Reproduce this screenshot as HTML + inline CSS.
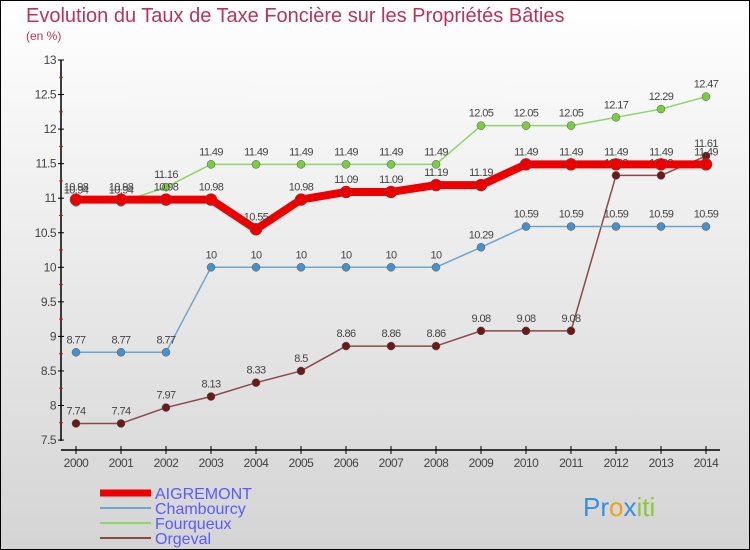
<!DOCTYPE html>
<html><head><meta charset="utf-8"><style>
body{margin:0}
svg{display:block;font-family:"Liberation Sans",sans-serif}
</style></head><body>
<svg id="c" width="750" height="550" viewBox="0 0 750 550">
<defs><linearGradient id="bg" x1="0" y1="0" x2="0" y2="1"><stop offset="0" stop-color="#ffffff"/><stop offset="1" stop-color="#d4d4d4"/></linearGradient></defs>
<rect x="0.5" y="0.5" width="749" height="549" fill="url(#bg)" stroke="#000"/>
<text x="26" y="22" font-size="20" fill="#c0305a">Evolution du Taux de Taxe Foncière sur les Propriétés Bâties</text>
<text x="26" y="40" font-size="12" fill="#c0305a">(en %)</text>
<g id="axes"></g><g id="series"></g>
<g>
<line x1="100" y1="493" x2="151" y2="493" stroke="#e00" stroke-width="7"/>
<text x="155" y="499" font-size="16" fill="#5a5aff">AIGREMONT</text>
<line x1="100" y1="508" x2="151" y2="508" stroke="#6fa5cc" stroke-width="2"/>
<text x="155" y="514" font-size="16" fill="#5a5aff">Chambourcy</text>
<line x1="100" y1="523" x2="151" y2="523" stroke="#8fd46a" stroke-width="2"/>
<text x="155" y="529" font-size="16" fill="#5a5aff">Fourqueux</text>
<line x1="100" y1="538" x2="151" y2="538" stroke="#8a4a4a" stroke-width="2"/>
<text x="155" y="544" font-size="16" fill="#5a5aff">Orgeval</text>
</g>
<g font-size="26">
<text x="583" y="516"><tspan fill="#3a8fd8">Pr</tspan><tspan fill="#f0a020">o</tspan><tspan fill="#3a8fd8">x</tspan><tspan fill="#8cc63f">iti</tspan></text>
</g>
</svg>
<script>
const years=[2000,2001,2002,2003,2004,2005,2006,2007,2008,2009,2010,2011,2012,2013,2014];
const yTicks=[7.5,8,8.5,9,9.5,10,10.5,11,11.5,12,12.5,13];
const aigremont=[10.98,10.98,10.98,10.98,10.55,10.98,11.09,11.09,11.19,11.19,11.49,11.49,11.49,11.49,11.49];
const chambourcy=[8.77,8.77,8.77,10,10,10,10,10,10,10.29,10.59,10.59,10.59,10.59,10.59];
const fourqueux=[10.94,10.94,11.16,11.49,11.49,11.49,11.49,11.49,11.49,12.05,12.05,12.05,12.17,12.29,12.47];
const orgeval=[7.74,7.74,7.97,8.13,8.33,8.5,8.86,8.86,8.86,9.08,9.08,9.08,11.33,11.33,11.61];
const NS='http://www.w3.org/2000/svg';
const x=i=>76+i*45;
const y=v=>60+(13-v)*69.1;
function mk(t,a,p){const e=document.createElementNS(NS,t);for(const k in a)e.setAttribute(k,a[k]);p.appendChild(e);return e;}
const ax=document.getElementById('axes');
const ya=mk('line',{x1:61,y1:60,x2:61,y2:441,stroke:'#000','stroke-width':1.5},ax);


const xa=mk('line',{x1:61,y1:450,x2:720,y2:450,stroke:'#000','stroke-width':1.5},ax);


yTicks.forEach(v=>{
  mk('line',{x1:58,y1:y(v),x2:64,y2:y(v),stroke:'#000'},ax);
  if(v<13)mk('line',{x1:59,y1:y(v+0.25),x2:63,y2:y(v+0.25),stroke:'#f00'},ax);
  const t=mk('text',{x:56,y:y(v)+4,'text-anchor':'end','font-size':12,fill:'#444','letter-spacing':-0.5},ax);
  t.textContent=v;
  
  
});
years.forEach((yr,i)=>{
  mk('line',{x1:x(i),y1:446,x2:x(i),y2:454,stroke:'#000'},ax);
  const t=mk('text',{x:x(i),y:467,'text-anchor':'middle','font-size':12,fill:'#444','letter-spacing':-0.5},ax);
  t.textContent=yr;
  
  
});
const sg=document.getElementById('series');
function draw(name,vals,color,w,r,dot){
  const g=mk('g',{},sg);
  
  
  const pl=mk('polyline',{points:vals.map((v,i)=>x(i)+','+y(v)).join(' '),fill:'none',stroke:color,'stroke-width':w,'stroke-linejoin':'round'},g);
  
  
  vals.forEach((v,i)=>{
    const c=mk('circle',{cx:x(i),cy:y(v),r:r,fill:dot,stroke:'#555','stroke-width':0.5},g);
    
    
    const t=mk('text',{x:x(i),y:y(v)-9,'text-anchor':'middle','font-size':11,fill:'#444','letter-spacing':-0.6},g);
    t.textContent=v;
    
    
  });
}
draw('orgeval',orgeval,'#8a4a4a',1.5,4,'#6b1a1a');
draw('chambourcy',chambourcy,'#6fa5cc',1.5,4,'#4a90c8');
draw('fourqueux',fourqueux,'#8fd46a',1.5,4,'#7acc44');
draw('aigremont',aigremont,'#ee0000',8,6,'#ee0000');
</script>
</body></html>
